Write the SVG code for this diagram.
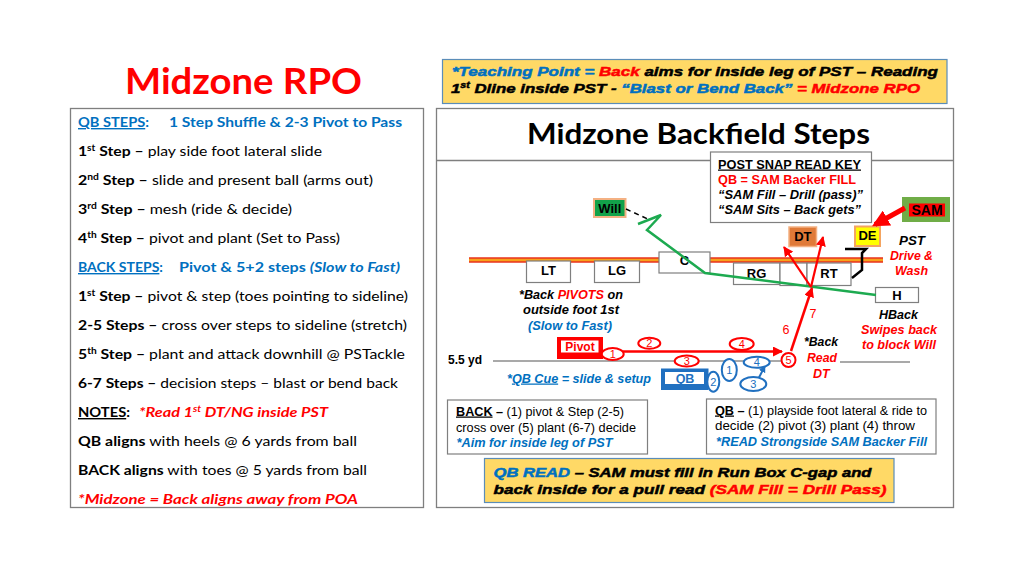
<svg xmlns="http://www.w3.org/2000/svg" width="1024" height="576" viewBox="0 0 1024 576">
<defs>
<style>
.pnl{fill:#fff;stroke:#7f7f7f;stroke-width:1.3}
.c{font-family:Lato,"Open Sans",sans-serif;font-size:14px;fill:#000}
.b{font-weight:700}
.i{font-style:italic}
.blue{fill:#0070C0}
.red{fill:#FF0000}
.a{font-family:"Liberation Sans",Arial,sans-serif;font-size:12.5px;fill:#000}
.box{fill:#fff;stroke:#7f7f7f;stroke-width:1.2}
.lbl{font-family:"Liberation Sans",Arial,sans-serif;font-size:13px;font-weight:700;text-anchor:middle;fill:#000}
.oR{fill:#fff;stroke:#FF0000;stroke-width:2}
.oB{fill:#fff;stroke:#2070C0;stroke-width:2}
.nR{font-family:"Liberation Sans",Arial,sans-serif;font-size:11px;fill:#FF0000;text-anchor:middle}
.nB{font-family:"Liberation Sans",Arial,sans-serif;font-size:11px;fill:#2070C0;text-anchor:middle}
.hv{font-family:"Liberation Sans",Arial,sans-serif;font-weight:700;font-style:italic;font-size:13.5px;stroke-width:0.5}
.hk{fill:#000;stroke:#000}
.hr{fill:#FF0000;stroke:#FF0000}
.hb{fill:#0070C0;stroke:#0070C0}
.yel{fill:#FFD966;stroke:#5B8DB8;stroke-width:1.2}
</style>
<marker id="mR" viewBox="0 0 10 10" refX="9" refY="5" markerWidth="10" markerHeight="10" markerUnits="userSpaceOnUse" orient="auto"><path d="M0,0L10,5L0,10z" fill="#FF0000"/></marker>
<marker id="mR2" viewBox="0 0 10 10" refX="8" refY="5" markerWidth="17" markerHeight="17" markerUnits="userSpaceOnUse" orient="auto"><path d="M0,0L10,5L0,10z" fill="#FF0000"/></marker>
<marker id="mB" viewBox="0 0 10 10" refX="9" refY="5" markerWidth="7" markerHeight="7" markerUnits="userSpaceOnUse" orient="auto"><path d="M0,0L10,5L0,10z" fill="#2070C0"/></marker>
</defs>
<rect width="1024" height="576" fill="#fff"/>

<g id="title">
<text class="c b" x="125" y="94" style="font-size:37px;fill:#FF0000" textLength="237" lengthAdjust="spacingAndGlyphs">Midzone RPO</text>
</g>

<g id="left-panel">
<rect class="pnl" x="70.5" y="108.5" width="353" height="399"/>
<text class="c b blue" x="78" y="127" textLength="71" lengthAdjust="spacingAndGlyphs"><tspan text-decoration="underline">QB STEPS</tspan>:</text>
<text class="c b blue" x="169" y="127" textLength="233" lengthAdjust="spacingAndGlyphs">1 Step Shuffle &amp; 2-3 Pivot to Pass</text>
<text class="c" x="78" y="156" textLength="244" lengthAdjust="spacingAndGlyphs"><tspan class="b">1</tspan><tspan class="b" font-size="9" dy="-5">st</tspan><tspan class="b" dy="5"> Step –</tspan> play side foot lateral slide</text>
<text class="c" x="78" y="185" textLength="295" lengthAdjust="spacingAndGlyphs"><tspan class="b">2</tspan><tspan class="b" font-size="9" dy="-5">nd</tspan><tspan class="b" dy="5"> Step –</tspan> slide and present ball (arms out)</text>
<text class="c" x="78" y="214" textLength="214" lengthAdjust="spacingAndGlyphs"><tspan class="b">3</tspan><tspan class="b" font-size="9" dy="-5">rd</tspan><tspan class="b" dy="5"> Step –</tspan> mesh (ride &amp; decide)</text>
<text class="c" x="78" y="243" textLength="262" lengthAdjust="spacingAndGlyphs"><tspan class="b">4</tspan><tspan class="b" font-size="9" dy="-5">th</tspan><tspan class="b" dy="5"> Step –</tspan> pivot and plant (Set to Pass)</text>
<text class="c b blue" x="78" y="272" textLength="85" lengthAdjust="spacingAndGlyphs"><tspan text-decoration="underline">BACK STEPS</tspan>:</text>
<text class="c b blue" x="179" y="272" textLength="221" lengthAdjust="spacingAndGlyphs">Pivot &amp; 5+2 steps <tspan class="i">(Slow to Fast)</tspan></text>
<text class="c" x="78" y="301" textLength="330" lengthAdjust="spacingAndGlyphs"><tspan class="b">1</tspan><tspan class="b" font-size="9" dy="-5">st</tspan><tspan class="b" dy="5"> Step –</tspan> pivot &amp; step (toes pointing to sideline)</text>
<text class="c" x="78" y="330" textLength="329" lengthAdjust="spacingAndGlyphs"><tspan class="b">2-5 Steps –</tspan> cross over steps to sideline (stretch)</text>
<text class="c" x="78" y="359" textLength="327" lengthAdjust="spacingAndGlyphs"><tspan class="b">5</tspan><tspan class="b" font-size="9" dy="-5">th</tspan><tspan class="b" dy="5"> Step –</tspan> plant and attack downhill @ PSTackle</text>
<text class="c" x="78" y="388" textLength="320" lengthAdjust="spacingAndGlyphs"><tspan class="b">6-7 Steps –</tspan> decision steps – blast or bend back</text>
<text class="c b" x="78" y="417" textLength="52" lengthAdjust="spacingAndGlyphs"><tspan text-decoration="underline">NOTES</tspan>:</text>
<text class="c b i red" x="139" y="417" textLength="189" lengthAdjust="spacingAndGlyphs">*Read 1<tspan font-size="9" dy="-5">st</tspan><tspan dy="5"> DT/NG inside PST</tspan></text>
<text class="c" x="78" y="446" textLength="279" lengthAdjust="spacingAndGlyphs"><tspan class="b">QB aligns</tspan> with heels @ 6 yards from ball</text>
<text class="c" x="78" y="475" textLength="289" lengthAdjust="spacingAndGlyphs"><tspan class="b">BACK aligns</tspan> with toes @ 5 yards from ball</text>
<text class="c b i red" x="78" y="504" textLength="280" lengthAdjust="spacingAndGlyphs">*Midzone = Back aligns away from POA</text>
</g>

<g id="teaching-point">
<rect class="yel" x="442.5" y="59.5" width="504.5" height="44"/>
<text class="hv" x="452" y="76" textLength="486" lengthAdjust="spacingAndGlyphs"><tspan class="hb">*Teaching Point = </tspan><tspan class="hr">Back</tspan><tspan class="hk"> aims for inside leg of PST – Reading</tspan></text>
<text class="hv" x="451" y="92.5" textLength="469" lengthAdjust="spacingAndGlyphs"><tspan class="hk">1</tspan><tspan class="hk" font-size="8.5" dy="-5">st</tspan><tspan class="hk" dy="5"> Dline inside PST - </tspan><tspan class="hb">“Blast or Bend Back”</tspan><tspan class="hr"> = Midzone RPO</tspan></text>
</g>

<g id="right-panel">
<rect class="pnl" x="436.5" y="108.5" width="517" height="399"/>
<line x1="436.5" y1="160.5" x2="953.5" y2="160.5" stroke="#7f7f7f" stroke-width="1.3"/>
<text class="c b" x="527" y="144" style="font-size:29px" textLength="343" lengthAdjust="spacingAndGlyphs">Midzone Backfield Steps</text>
</g>

<g id="los">
<line x1="469" y1="260" x2="883" y2="260" stroke="#E8321E" stroke-width="5.5"/>
<line x1="469" y1="260" x2="883" y2="260" stroke="#F7A21B" stroke-width="2.6"/>
</g>

<g id="post-snap-key">
<rect class="box" x="710.5" y="152" width="161" height="70.5"/>
<text class="a b" x="718" y="168.5" textLength="143" lengthAdjust="spacingAndGlyphs" text-decoration="underline">POST SNAP READ KEY</text>
<text class="a b" x="718" y="183.5" style="fill:#FF0000" textLength="138" lengthAdjust="spacingAndGlyphs">QB = SAM Backer FILL</text>
<text class="a b i" x="718" y="198.5" textLength="145" lengthAdjust="spacingAndGlyphs">“SAM Fill – Drill (pass)”</text>
<text class="a b i" x="718" y="213.5" textLength="143" lengthAdjust="spacingAndGlyphs">“SAM Sits – Back gets”</text>
</g>

<g id="node-LT"><rect class="box" x="526.5" y="261" width="44" height="21.5"/><text class="lbl" x="548.5" y="275">LT</text></g>
<g id="node-LG"><rect class="box" x="594.5" y="261" width="45" height="21.5"/><text class="lbl" x="617" y="275">LG</text></g>
<g id="node-C"><rect class="box" x="659" y="252" width="51" height="21"/><text class="lbl" x="684.5" y="265">C</text></g>
<g id="node-RG"><rect class="box" x="733.5" y="263" width="46.5" height="21.5"/><text class="lbl" x="756.5" y="278">RG</text></g>
<g id="node-gap"><rect class="box" x="780" y="263" width="27" height="22.5"/></g>
<g id="node-RT"><rect class="box" x="807" y="263" width="44" height="22.5"/><text class="lbl" x="829" y="278">RT</text></g>
<g id="node-H"><rect class="box" x="875.5" y="287.5" width="43" height="15"/><text class="lbl" x="897" y="300">H</text></g>
<g id="node-Will"><rect x="594" y="199" width="31.5" height="18" fill="#12A24A" stroke="#F4B183" stroke-width="2"/><text class="lbl" x="609.8" y="212.5">Will</text></g>
<g id="node-DT"><rect x="789" y="227" width="27.5" height="19.5" fill="#E07A38" stroke="#F4B183" stroke-width="1.5"/><text class="lbl" x="802.8" y="241">DT</text></g>
<g id="node-DE"><rect x="855" y="226.5" width="25" height="19.5" fill="#FFFF00" stroke="#F4A460" stroke-width="2"/><text class="lbl" x="867.5" y="240">DE</text></g>
<g id="node-SAM"><rect x="902" y="197" width="48" height="25" fill="#70AD47"/><rect x="909" y="203.5" width="36" height="13" fill="#FF0000"/><text class="lbl" x="927" y="215" style="font-size:14px">SAM</text></g>

<g id="connectors" fill="none">
<line x1="493" y1="361" x2="783" y2="361" stroke="#555" stroke-width="1.2"/>
<line x1="840" y1="362" x2="910" y2="362" stroke="#555" stroke-width="1.2"/>
<path d="M626,209 L650,220" stroke="#000" stroke-width="1.5" stroke-dasharray="5,4"/>
<path d="M876,295 L705,273 L647,230 L661,215 L638,224" stroke="#1DAA50" stroke-width="2.5" stroke-linejoin="miter"/>
<path d="M623,351.5 L782,351.5" stroke="#FF0000" stroke-width="2.5" marker-end="url(#mR)"/>
<path d="M791,351 L812,288" stroke="#FF0000" stroke-width="2.5" marker-end="url(#mR)"/>
<path d="M811,287 L784,247" stroke="#FF0000" stroke-width="2.2" marker-end="url(#mR)"/>
<path d="M811,287 L823,237" stroke="#FF0000" stroke-width="2.2" marker-end="url(#mR)"/>
<path d="M905,208 L875,224.5" stroke="#FF0000" stroke-width="5" marker-end="url(#mR2)"/>
<path d="M759,377.5 L765,366" stroke="#2070C0" stroke-width="2" marker-end="url(#mB)"/>
<path d="M845,249 L866,249 L862,253 L862,270 L852,278" stroke="#000" stroke-width="2.5"/>
</g>

<g id="node-pivot">
<rect x="557" y="337" width="46" height="22" fill="#FF0000"/>
<rect x="561" y="340.5" width="37.5" height="12" fill="#fff"/>
<text class="a b" x="580" y="350.5" text-anchor="middle" style="font-size:12px;fill:#FF0000">Pivot</text>
</g>
<g id="node-QB">
<rect x="661" y="368.5" width="47.5" height="21.5" fill="#2070C0"/>
<rect x="665" y="372" width="39" height="12" fill="#fff"/>
<text class="a b" x="685" y="382.5" text-anchor="middle" style="fill:#2070C0">QB</text>
</g>

<g id="steps-back">
<ellipse class="oR" cx="612.7" cy="354" rx="11" ry="6"/><text class="nR" x="612.7" y="358">1</text>
<ellipse class="oR" cx="649.3" cy="343.3" rx="11" ry="5.5"/><text class="nR" x="649.3" y="347.3">2</text>
<ellipse class="oR" cx="686.7" cy="361" rx="12" ry="5.5"/><text class="nR" x="686.7" y="365">3</text>
<ellipse class="oR" cx="741.7" cy="344" rx="12" ry="6"/><text class="nR" x="741.7" y="348">4</text>
<circle class="oR" cx="788.5" cy="360" r="7"/><text class="nR" x="788.5" y="364">5</text>
</g>
<g id="steps-qb">
<ellipse class="oB" cx="713.3" cy="381.7" rx="6" ry="10"/><text class="nB" x="713.3" y="385.7">2</text>
<ellipse class="oB" cx="729.3" cy="370" rx="7.5" ry="11"/><text class="nB" x="729.3" y="374">1</text>
<ellipse class="oB" cx="756.7" cy="362.3" rx="13" ry="5.5"/><text class="nB" x="756.7" y="366.3">4</text>
<ellipse class="oB" cx="753.3" cy="384" rx="13" ry="7"/><text class="nB" x="753.3" y="388">3</text>
</g>

<g id="field-labels">
<text class="a b" x="448" y="363.5" style="font-size:12px">5.5 yd</text>
<text class="a b i" x="519" y="298.5" textLength="104" lengthAdjust="spacingAndGlyphs">*Back <tspan fill="#FF0000">PIVOTS</tspan> on</text>
<text class="a b i" x="523" y="314" textLength="96" lengthAdjust="spacingAndGlyphs">outside foot 1st</text>
<text class="a b i" x="528" y="329.5" style="fill:#0070C0" textLength="84" lengthAdjust="spacingAndGlyphs">(Slow to Fast)</text>
<text class="a b i" x="507" y="382.5" style="fill:#0070C0" textLength="144" lengthAdjust="spacingAndGlyphs">*<tspan text-decoration="underline">QB Cue</tspan> = slide &amp; setup</text>
<text class="a" x="786" y="334" text-anchor="middle" style="fill:#FF0000">6</text>
<text class="a" x="813" y="318" text-anchor="middle" style="fill:#FF0000">7</text>
<text class="a b i" x="804" y="346" textLength="34" lengthAdjust="spacingAndGlyphs">*Back</text>
<text class="a b i" x="807" y="362" style="fill:#FF0000" textLength="30" lengthAdjust="spacingAndGlyphs">Read</text>
<text class="a b i" x="813" y="377.5" style="fill:#FF0000">DT</text>
<text class="a b i" x="879" y="318.5" textLength="39" lengthAdjust="spacingAndGlyphs">HBack</text>
<text class="a b i" x="861" y="334" style="fill:#FF0000" textLength="76" lengthAdjust="spacingAndGlyphs">Swipes back</text>
<text class="a b i" x="862" y="349" style="fill:#FF0000" textLength="74" lengthAdjust="spacingAndGlyphs">to block Will</text>
<text class="a b i" x="899" y="244.5" textLength="26" lengthAdjust="spacingAndGlyphs">PST</text>
<text class="a b i" x="890" y="260" style="fill:#FF0000" textLength="43" lengthAdjust="spacingAndGlyphs">Drive &amp;</text>
<text class="a b i" x="895" y="275" style="fill:#FF0000" textLength="33" lengthAdjust="spacingAndGlyphs">Wash</text>
</g>

<g id="back-note">
<rect class="box" x="447.5" y="400" width="200" height="54"/>
<text class="a" x="456" y="415.5" textLength="168" lengthAdjust="spacingAndGlyphs"><tspan class="b" text-decoration="underline">BACK</tspan><tspan class="b"> –</tspan> (1) pivot &amp; Step (2-5)</text>
<text class="a" x="456" y="431.5" textLength="180" lengthAdjust="spacingAndGlyphs">cross over (5) plant (6-7) decide</text>
<text class="a b i" x="456.5" y="446.5" style="fill:#0070C0" textLength="156" lengthAdjust="spacingAndGlyphs">*Aim for inside leg of PST</text>
</g>

<g id="qb-note">
<rect class="box" x="706.5" y="399" width="229.5" height="55"/>
<text class="a" x="715" y="414.5" textLength="212" lengthAdjust="spacingAndGlyphs"><tspan class="b" text-decoration="underline">QB</tspan><tspan class="b"> –</tspan> (1) playside foot lateral &amp; ride to</text>
<text class="a" x="715" y="430" textLength="200" lengthAdjust="spacingAndGlyphs">decide (2) pivot (3) plant (4) throw</text>
<text class="a b i" x="716" y="445.5" style="fill:#0070C0" textLength="211" lengthAdjust="spacingAndGlyphs">*READ Strongside SAM Backer Fill</text>
</g>

<g id="qb-read">
<rect class="yel" x="484.5" y="458.5" width="409.5" height="44"/>
<text class="hv" x="493.5" y="477" textLength="378" lengthAdjust="spacingAndGlyphs"><tspan class="hb">QB READ</tspan><tspan class="hk"> – SAM must fill in Run Box C-gap and</tspan></text>
<text class="hv" x="493.5" y="493.5" textLength="393" lengthAdjust="spacingAndGlyphs"><tspan class="hk">back inside for a pull read </tspan><tspan class="hr">(SAM Fill = Drill Pass)</tspan></text>
</g>
</svg>
